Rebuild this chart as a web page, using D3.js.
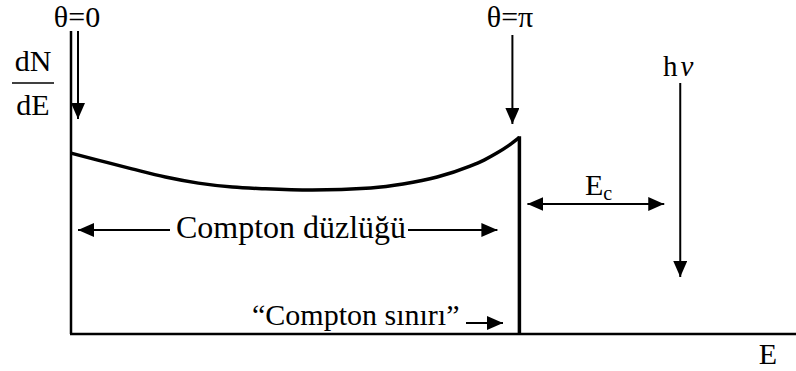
<!DOCTYPE html>
<html>
<head>
<meta charset="utf-8">
<script src="https://cdn.jsdelivr.net/npm/d3@7"></script>
<style>
  html, body { margin: 0; padding: 0; background: #fff; }
</style>
</head>
<body>
<svg id="chart" width="796" height="371"></svg>
<script>
// Compton continuum: photon energy E (units of hν) and relative dN/dE
const energy = [0, 0.044, 0.100, 0.155, 0.209, 0.265, 0.319, 0.396, 0.492, 0.545, 0.601, 0.655, 0.678, 0.699, 0.717, 0.736];
const counts = [59.7, 57.4, 54.5, 51.8, 49.8, 48.5, 47.9, 47.5, 48.2, 49.5, 51.8, 55.4, 57.4, 59.7, 62.0, 64.9];
const comptonEdge = 0.736;   // "Compton sınırı"
const photopeak = 1.0;       // hν
const eMax = 1.19;
const yMax = 100;

const serif = "'Liberation Serif', 'Times New Roman', 'DejaVu Serif', serif";

const svg = d3.select("#chart");
const x = d3.scaleLinear().domain([0, eMax]).range([71, 796]);
const y = d3.scaleLinear().domain([0, yMax]).range([334, 31]);

// arrowhead marker
const defs = svg.append("defs");
defs.append("marker")
  .attr("id", "head")
  .attr("viewBox", "0 0 16 14")
  .attr("refX", 16).attr("refY", 7)
  .attr("markerWidth", 16).attr("markerHeight", 14)
  .attr("markerUnits", "userSpaceOnUse")
  .attr("orient", "auto-start-reverse")
  .append("path").attr("d", "M0,0 L16,7 L0,14 Z").attr("fill", "#000");

// axes
svg.append("line")
  .attr("x1", x(0)).attr("x2", x(0)).attr("y1", y(yMax)).attr("y2", y(0))
  .attr("stroke", "#000").attr("stroke-width", 2.5);
svg.append("line")
  .attr("x1", x(0) - 1).attr("x2", x(eMax)).attr("y1", y(0)).attr("y2", y(0))
  .attr("stroke", "#000").attr("stroke-width", 2.5);

// Compton continuum curve
const line = d3.line().x((d, i) => x(energy[i])).y(d => y(d)).curve(d3.curveMonotoneX);
svg.append("path").datum(counts)
  .attr("d", line)
  .attr("fill", "none").attr("stroke", "#000").attr("stroke-width", 3.5)
  .attr("stroke-linejoin", "round");

// Compton edge drop
svg.append("line")
  .attr("x1", x(comptonEdge)).attr("x2", x(comptonEdge))
  .attr("y1", y(counts[counts.length - 1]) - 1).attr("y2", y(0))
  .attr("stroke", "#000").attr("stroke-width", 3.5);

function arrow(x1, y1, x2, y2, both) {
  const l = svg.append("line")
    .attr("x1", x1).attr("y1", y1).attr("x2", x2).attr("y2", y2)
    .attr("stroke", "#000").attr("stroke-width", 2)
    .attr("marker-end", "url(#head)");
  if (both) l.attr("marker-start", "url(#head)");
  return l;
}

// θ = 0 and θ = π arrows
arrow(x(0) + 7, y(yMax), x(0) + 7, 119);
arrow(x(comptonEdge) - 7, 35, x(comptonEdge) - 7, 124);
// hν arrow
arrow(x(photopeak), 83, x(photopeak), 277);
// E_c span between edge and photopeak
arrow(x(comptonEdge) + 8, 204, x(photopeak) - 16, 204, true);
// Compton plateau span
svg.append("line").attr("x1", x(0) + 7).attr("y1", 230).attr("x2", 170).attr("y2", 230)
  .attr("stroke", "#000").attr("stroke-width", 2)
  .attr("marker-start", "url(#head)");
arrow(408, 230, x(comptonEdge) - 22, 230);
// pointer to the edge
arrow(466, 323, 503, 323);

const fs = 30;
function label(txt, tx, ty, anchor, size) {
  return svg.append("text").attr("x", tx).attr("y", ty)
    .attr("font-family", serif)
    .attr("text-anchor", anchor || "start")
    .attr("font-size", size || fs).text(txt);
}

label("θ=0", 77, 27, "middle");
label("θ=π", 510, 27, "middle");

// dN/dE fraction
label("dN", 33, 71, "middle");
svg.append("line").attr("x1", 12).attr("x2", 54).attr("y1", 83).attr("y2", 83)
  .attr("stroke", "#000").attr("stroke-width", 1.5);
label("dE", 33, 115, "middle");

// hν
const hv = svg.append("text").attr("x", 663).attr("y", 76)
  .attr("font-family", serif).attr("font-size", 29);
hv.append("tspan").text("h");
hv.append("tspan").attr("dx", 3).attr("font-style", "italic").text("ν");

// E_c
const ec = svg.append("text").attr("x", 585).attr("y", 195)
  .attr("font-family", serif).attr("font-size", fs);
ec.append("tspan").text("E");
ec.append("tspan").attr("font-size", 20).attr("dy", 5).text("c");

label("Compton düzlüğü", 291, 238, "middle", 32);
label("“Compton sınırı”", 252, 325, "start", 30);
label("E", 768, 364, "middle");
</script>
</body>
</html>
